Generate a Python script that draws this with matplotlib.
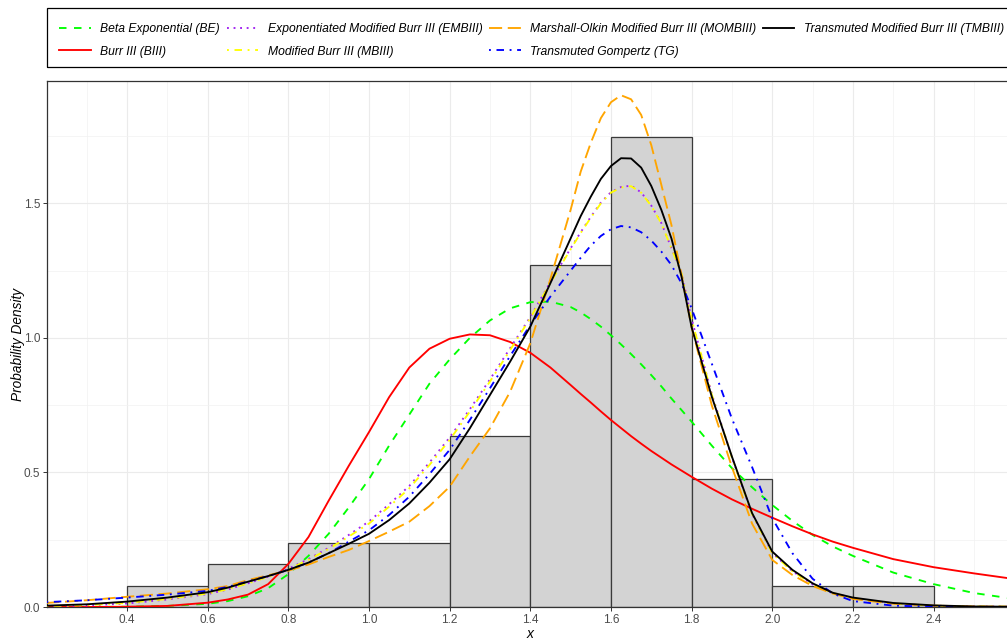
import matplotlib.pyplot as plt
from matplotlib.patches import Rectangle
from matplotlib.ticker import MultipleLocator

plt.rcParams['font.family'] = ['Liberation Sans', 'DejaVu Sans']

# histogram of the sample (n = 63, bin width 0.2)
bin_left = [0.4, 0.6, 0.8, 1.0, 1.2, 1.4, 1.6, 1.8, 2.0, 2.2]
bin_count = [1, 2, 3, 3, 8, 16, 22, 6, 1, 1]
bin_width = 0.2

# fitted densities
x = [0.2, 0.3, 0.4, 0.5, 0.6, 0.65, 0.7, 0.75, 0.8, 0.85, 0.9, 0.95, 1.0, 1.05,
     1.1, 1.15, 1.2, 1.25, 1.3, 1.35, 1.4, 1.45, 1.5,
     1.525, 1.55, 1.575, 1.6, 1.625, 1.65, 1.675, 1.7, 1.725, 1.75, 1.775, 1.8,
     1.85, 1.9, 1.95, 2.0, 2.05, 2.1, 2.15, 2.2, 2.3, 2.4, 2.5, 2.6]

be = [0.000, 0.000, 0.001, 0.004, 0.012, 0.022, 0.040, 0.070, 0.122, 0.190, 0.272,
      0.370, 0.475, 0.600, 0.715, 0.830, 0.920, 1.000, 1.065, 1.110, 1.133, 1.135, 1.115,
      1.095, 1.070, 1.042, 1.010, 0.976, 0.940, 0.902, 0.862, 0.820, 0.775, 0.732, 0.689,
      0.600, 0.516, 0.445, 0.379, 0.320, 0.268, 0.225, 0.190, 0.128, 0.085, 0.052, 0.030]
biii = [0.000, 0.000, 0.001, 0.004, 0.016, 0.028, 0.046, 0.085, 0.160, 0.260, 0.395,
        0.525, 0.650, 0.780, 0.890, 0.960, 0.997, 1.013, 1.010, 0.985, 0.945, 0.890, 0.825,
        0.792, 0.760, 0.727, 0.695, 0.665, 0.635, 0.607, 0.580, 0.555, 0.530, 0.507, 0.484,
        0.440, 0.400, 0.365, 0.332, 0.300, 0.270, 0.243, 0.220, 0.178, 0.148, 0.125, 0.104]
embiii = [0.003, 0.006, 0.013, 0.028, 0.048, 0.065, 0.088, 0.113, 0.142, 0.178, 0.220,
          0.268, 0.318, 0.382, 0.450, 0.537, 0.630, 0.735, 0.846, 0.962, 1.078, 1.208, 1.333,
          1.393, 1.450, 1.503, 1.542, 1.561, 1.566, 1.541, 1.492, 1.427, 1.334, 1.241, 1.071,
          0.792, 0.556, 0.346, 0.201, 0.133, 0.084, 0.052, 0.033, 0.013, 0.005, 0.002, 0.001]
mbiii = [0.003, 0.007, 0.015, 0.030, 0.050, 0.066, 0.088, 0.112, 0.140, 0.175, 0.216,
         0.262, 0.310, 0.373, 0.441, 0.528, 0.621, 0.726, 0.838, 0.955, 1.074, 1.205, 1.330,
         1.390, 1.447, 1.500, 1.540, 1.559, 1.564, 1.540, 1.491, 1.426, 1.333, 1.240, 1.070,
         0.790, 0.555, 0.345, 0.200, 0.133, 0.084, 0.052, 0.033, 0.013, 0.005, 0.002, 0.001]
mombiii = [0.015, 0.025, 0.038, 0.050, 0.066, 0.078, 0.100, 0.118, 0.135, 0.158, 0.186,
           0.212, 0.245, 0.280, 0.317, 0.375, 0.447, 0.559, 0.664, 0.800, 0.980, 1.220, 1.476,
           1.618, 1.725, 1.817, 1.876, 1.902, 1.887, 1.829, 1.717, 1.569, 1.420, 1.234, 1.040,
           0.750, 0.520, 0.310, 0.175, 0.119, 0.078, 0.050, 0.030, 0.012, 0.005, 0.002, 0.001]
tg = [0.018, 0.025, 0.035, 0.046, 0.060, 0.075, 0.095, 0.115, 0.138, 0.165, 0.200,
      0.243, 0.285, 0.342, 0.410, 0.494, 0.584, 0.695, 0.813, 0.933, 1.048, 1.154, 1.250,
      1.298, 1.343, 1.379, 1.404, 1.416, 1.411, 1.393, 1.362, 1.321, 1.271, 1.203, 1.110,
      0.905, 0.700, 0.520, 0.330, 0.200, 0.105, 0.050, 0.022, 0.005, 0.001, 0.000, 0.000]
tmbiii = [0.005, 0.010, 0.020, 0.035, 0.055, 0.072, 0.094, 0.115, 0.138, 0.165, 0.200,
          0.235, 0.272, 0.323, 0.385, 0.462, 0.549, 0.664, 0.788, 0.912, 1.042, 1.204, 1.370,
          1.453, 1.525, 1.591, 1.639, 1.668, 1.667, 1.633, 1.565, 1.476, 1.370, 1.228, 1.040,
          0.782, 0.559, 0.349, 0.206, 0.138, 0.088, 0.053, 0.035, 0.015, 0.006, 0.002, 0.001]

labels = ["Beta Exponential (BE)", "Burr III (BIII)",
          "Exponentiated Modified Burr III (EMBIII)", "Modified Burr III (MBIII)",
          "Marshall-Olkin Modified Burr III (MOMBIII)", "Transmuted Gompertz (TG)",
          "Transmuted Modified Burr III (TMBIII)"]

n = sum(bin_count)
density = [c / (n * bin_width) for c in bin_count]

fig = plt.figure(figsize=(10.07, 6.4), dpi=100)
ax = fig.add_axes([47 / 1007, 1 - 607 / 640, 966 / 1007, 526 / 640])

ax.bar(bin_left, density, width=bin_width, align='edge', color='#D3D3D3',
       edgecolor='#3a3a3a', linewidth=0.9, zorder=2)

styles = [
    (be, '#00FF00', (0, (4, 4))),
    (biii, '#FF0000', '-'),
    (embiii, '#A020F0', (0, (1, 2.5))),
    (mbiii, '#FFFF00', (0, (1, 3, 4, 3))),
    (mombiii, '#FFA500', (0, (7, 3))),
    (tg, '#0000FF', (0, (1, 3, 4, 3))),
    (tmbiii, '#000000', '-'),
]
handles = []
for (y, col, ls), lab in zip(styles, labels):
    h, = ax.plot(x, y, color=col, linestyle=ls, linewidth=1.35, label=lab, zorder=3)
    handles.append(h)

ax.set_xlim(0.2016, 2.597)
ax.set_ylim(0, 1.955)
ax.set_xticks([0.4, 0.6, 0.8, 1.0, 1.2, 1.4, 1.6, 1.8, 2.0, 2.2, 2.4])
ax.xaxis.set_minor_locator(MultipleLocator(0.1))
ax.yaxis.set_major_locator(MultipleLocator(0.5))
ax.yaxis.set_minor_locator(MultipleLocator(0.25))
ax.grid(which='major', color='#EBEBEB', linewidth=0.8, zorder=0)
ax.grid(which='minor', color='#F2F2F2', linewidth=0.5, zorder=0)
ax.set_axisbelow(True)
ax.tick_params(which='major', length=3, width=0.7, color='#333333',
               labelsize=8.5, labelcolor='#4D4D4D', pad=2)
ax.tick_params(which='minor', length=0)
for s in ax.spines.values():
    s.set_color('#333333')
    s.set_linewidth(0.9)

ax.set_xlabel("x", style='italic', fontsize=10, labelpad=1)
ax.set_ylabel("Probability Density", style='italic', fontsize=9.8, labelpad=-1)

# legend box drawn separately so the entries can sit where the reference has them
fig.patches.append(Rectangle((47 / 1007, 1 - 67 / 640), 970 / 1007, 59 / 640,
                             transform=fig.transFigure, fill=False,
                             edgecolor='black', linewidth=0.9))
leg = fig.legend(handles=handles, loc='upper left',
                 bbox_to_anchor=(47 / 1007, 1 - 10.5 / 640),
                 ncol=4, frameon=False,
                 prop={'style': 'italic', 'size': 8.7}, handlelength=2.6,
                 handletextpad=0.8, columnspacing=0.55, labelspacing=0.9,
                 borderpad=1.02, borderaxespad=0)

fig.savefig("out.png", dpi=100)
